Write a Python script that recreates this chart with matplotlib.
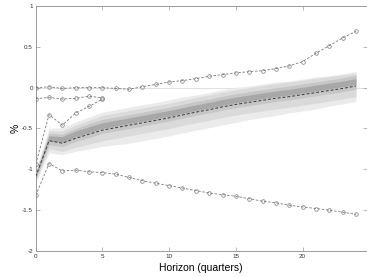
import matplotlib
matplotlib.use("Agg")
import matplotlib.pyplot as plt

plt.rcParams['font.family'] = ['Liberation Sans', 'DejaVu Sans']

horizon = list(range(25))

median = [-1.09, -0.65, -0.68, -0.62, -0.57, -0.52, -0.49, -0.46, -0.43, -0.40,
          -0.37, -0.335, -0.30, -0.27, -0.235, -0.205, -0.18, -0.155, -0.13, -0.11,
          -0.085, -0.06, -0.035, -0.01, 0.02]

band1_upper = [-1.01, -0.50, -0.49, -0.42, -0.36, -0.30, -0.27, -0.24, -0.21, -0.18,
               -0.15, -0.115, -0.09, -0.06, -0.025, 0.005, 0.02, 0.045, 0.07, 0.08,
               0.105, 0.13, 0.145, 0.17, 0.20]
band1_lower = [-1.17, -0.80, -0.82, -0.78, -0.75, -0.72, -0.70, -0.68, -0.65, -0.62,
               -0.59, -0.555, -0.52, -0.49, -0.455, -0.425, -0.39, -0.365, -0.34, -0.31,
               -0.285, -0.26, -0.225, -0.20, -0.17]
band2_upper = [-1.03, -0.53, -0.53, -0.46, -0.40, -0.34, -0.31, -0.28, -0.25, -0.22,
               -0.19, -0.155, -0.12, -0.09, -0.055, -0.025, 0.0, 0.025, 0.05, 0.07,
               0.09, 0.115, 0.135, 0.155, 0.175]
band2_lower = [-1.14, -0.75, -0.78, -0.73, -0.69, -0.65, -0.62, -0.59, -0.56, -0.53,
               -0.50, -0.465, -0.43, -0.40, -0.365, -0.335, -0.31, -0.285, -0.26, -0.24,
               -0.215, -0.19, -0.165, -0.14, -0.11]
band3_upper = [-1.05, -0.56, -0.57, -0.50, -0.44, -0.39, -0.36, -0.33, -0.30, -0.27,
               -0.24, -0.205, -0.17, -0.14, -0.105, -0.075, -0.05, -0.025, 0.0, 0.02,
               0.045, 0.07, 0.095, 0.12, 0.15]
band3_lower = [-1.12, -0.70, -0.72, -0.66, -0.61, -0.56, -0.53, -0.50, -0.47, -0.44,
               -0.41, -0.375, -0.34, -0.31, -0.275, -0.245, -0.22, -0.195, -0.17, -0.15,
               -0.125, -0.10, -0.075, -0.05, -0.02]
band4_upper = [-1.06, -0.59, -0.60, -0.53, -0.48, -0.43, -0.40, -0.37, -0.34, -0.31,
               -0.28, -0.245, -0.21, -0.18, -0.145, -0.115, -0.09, -0.065, -0.04, -0.02,
               0.005, 0.03, 0.055, 0.08, 0.11]
band4_lower = [-1.10, -0.65, -0.67, -0.60, -0.55, -0.50, -0.47, -0.44, -0.41, -0.38,
               -0.35, -0.315, -0.28, -0.25, -0.215, -0.185, -0.16, -0.135, -0.11, -0.09,
               -0.065, -0.04, -0.015, 0.01, 0.04]

series_a = [0.0, 0.01, -0.01, 0.0, 0.0, 0.0, -0.01, -0.02, 0.012, 0.04,
            0.07, 0.086, 0.11, 0.14, 0.16, 0.18, 0.196, 0.208, 0.233, 0.266,
            0.32, 0.42, 0.514, 0.61, 0.69]
series_b_x = [0, 1, 2, 3, 4, 5]
series_b = [-0.135, -0.12, -0.14, -0.13, -0.105, -0.125]
series_c_x = [0, 1, 2, 3, 4, 5]
series_c = [-0.94, -0.33, -0.46, -0.31, -0.23, -0.14]
series_d = [-1.32, -0.93, -1.02, -1.01, -1.03, -1.04, -1.06, -1.10, -1.14, -1.17,
            -1.20, -1.23, -1.26, -1.29, -1.31, -1.33, -1.36, -1.39, -1.41, -1.44,
            -1.46, -1.48, -1.50, -1.525, -1.55]

xticks = [0, 5, 10, 15, 20]
yticks = [-2, -1.5, -1, -0.5, 0, 0.5, 1]
ytick_labels = ['-2', '-1.5', '-1', '-0.5', '0', '0.5', '1']

fig = plt.figure(figsize=(3.67, 2.77), dpi=100)
ax = fig.add_axes([0.0973, 0.0939, 0.9017, 0.8845])

ax.axhline(0, color='#dcdcdc', lw=0.6, zorder=1)

bands = [(band1_lower, band1_upper, '#ebebeb'),
         (band2_lower, band2_upper, '#dadada'),
         (band3_lower, band3_upper, '#c6c6c6'),
         (band4_lower, band4_upper, '#a8a8a8')]
for lo, hi, c in bands:
    ax.fill_between(horizon, lo, hi, color=c, lw=0, zorder=2)

ax.plot(horizon, median, color='#3a3a3a', lw=0.7, ls=(0, (3, 2)), zorder=3)

mk = dict(color='#7a7a7a', lw=0.6, ls=(0, (3, 2)), marker='o', markersize=2.6,
          markerfacecolor='none', markeredgewidth=0.5, zorder=4)
ax.plot(horizon, series_a, **mk)
ax.plot(series_b_x, series_b, **mk)
ax.plot(series_c_x, series_c, **mk)
ax.plot(horizon, series_d, **mk)

ax.set_xlim(0, 24.8)
ax.set_ylim(-2, 1)
ax.set_xticks(xticks)
ax.set_xticklabels([str(t) for t in xticks])
ax.set_yticks(yticks)
ax.set_yticklabels(ytick_labels)

for s in ax.spines.values():
    s.set_color('#9a9a9a')
    s.set_linewidth(0.7)
ax.tick_params(direction='in', length=3, width=0.5, color='#9a9a9a',
               labelsize=4.5, labelcolor='#333333', top=True, right=True, pad=2)

ax.set_xlabel('Horizon (quarters)', fontsize=7.5, labelpad=3)
ax.set_ylabel('%', fontsize=7.5, labelpad=1)

fig.savefig('out.png', dpi=100)
